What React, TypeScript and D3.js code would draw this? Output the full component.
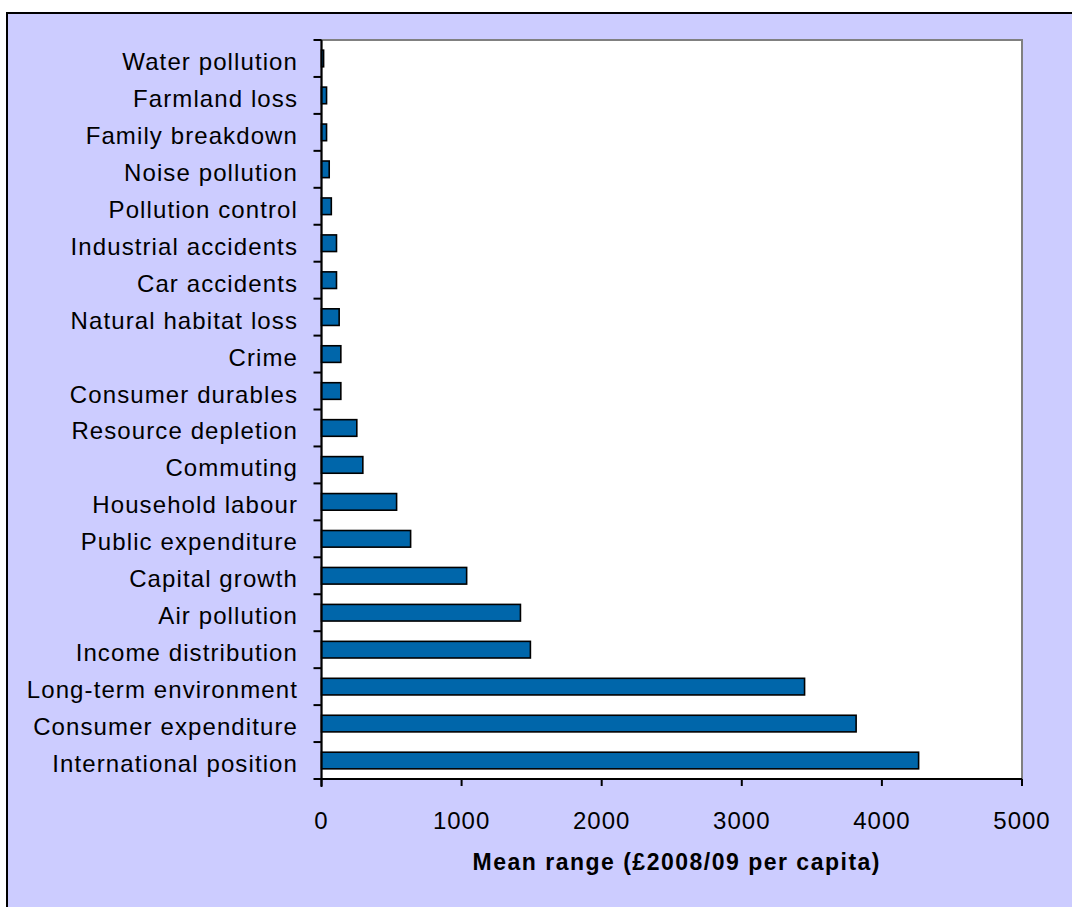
import React from "react";
import * as d3 from "d3";

const categories = [
  "Water pollution",
  "Farmland loss",
  "Family breakdown",
  "Noise pollution",
  "Pollution control",
  "Industrial accidents",
  "Car accidents",
  "Natural habitat loss",
  "Crime",
  "Consumer durables",
  "Resource depletion",
  "Commuting",
  "Household labour",
  "Public expenditure",
  "Capital growth",
  "Air pollution",
  "Income distribution",
  "Long-term environment",
  "Consumer expenditure",
  "International position",
];
const values = [15, 36, 36, 55, 70, 107, 107, 126, 138, 138, 252, 295, 536, 636, 1036, 1420, 1491, 3448, 3816, 4262];
const xTicks = [0, 1000, 2000, 3000, 4000, 5000];
const xTitle = "Mean range (£2008/09  per capita)";

const W = 1072;
const H = 907;
const plot = { left: 321.5, right: 1022, top: 40, bottom: 779 };
const FONT = "'Liberation Sans', Arial, Helvetica, sans-serif";

export default function App() {
  const x = d3.scaleLinear().domain([0, 5000]).range([plot.left, plot.right]);
  const y = d3
    .scaleBand<string>()
    .domain(categories)
    .range([plot.top, plot.bottom])
    .paddingInner(0)
    .paddingOuter(0);
  const bw = y.bandwidth();
  const barH = bw * 0.45;
  const boundaries = d3.range(categories.length + 1).map((i) => plot.top + i * bw);

  return (
    <svg
      width={W}
      height={H}
      style={{ position: "absolute", left: 0, top: 0, background: "#fff", fontFamily: FONT }}
    >
      <rect x={7} y={13} width={W + 10} height={H + 10} fill="#CCCCFF" stroke="#000" strokeWidth={2} />
      <rect
        x={plot.left}
        y={plot.top}
        width={plot.right - plot.left}
        height={plot.bottom - plot.top}
        fill="#fff"
        stroke="#808080"
        strokeWidth={2}
      />
      {categories.map((c, i) => {
        const cy = (y(c) as number) + bw / 2;
        return (
          <rect
            key={c}
            x={x(0)}
            y={cy - barH / 2}
            width={Math.max(0, x(values[i]) - x(0))}
            height={barH}
            fill="#0066AA"
            stroke="#000"
            strokeWidth={1.6}
          />
        );
      })}
      <line x1={plot.left} x2={plot.left} y1={plot.top} y2={plot.bottom + 8} stroke="#000" strokeWidth={2} />
      <line x1={plot.left} x2={plot.right} y1={plot.bottom} y2={plot.bottom} stroke="#000" strokeWidth={2} />
      {boundaries.map((b, i) => (
        <line key={"yt" + i} x1={plot.left - 8} x2={plot.left} y1={b} y2={b} stroke="#000" strokeWidth={2} />
      ))}
      {xTicks.map((t) => (
        <g key={"xt" + t}>
          <line x1={x(t)} x2={x(t)} y1={plot.bottom} y2={plot.bottom + 7} stroke="#000" strokeWidth={2} />
          <text x={x(t)} y={829} textAnchor="middle" fontSize={24} fill="#000" letterSpacing={1}>
            {t}
          </text>
        </g>
      ))}
      {categories.map((c) => (
        <text
          key={"l" + c}
          x={298}
          y={(y(c) as number) + bw / 2 + 11.5}
          textAnchor="end"
          fontSize={24}
          fill="#000"
          letterSpacing={1.1}
        >
          {c}
        </text>
      ))}
      <text
        x={(x(0) + x(5000)) / 2 + 5}
        y={870}
        textAnchor="middle"
        fontSize={23}
        fontWeight="bold"
        fill="#000"
        letterSpacing={1.5}
      >
        {xTitle}
      </text>
    </svg>
  );
}
